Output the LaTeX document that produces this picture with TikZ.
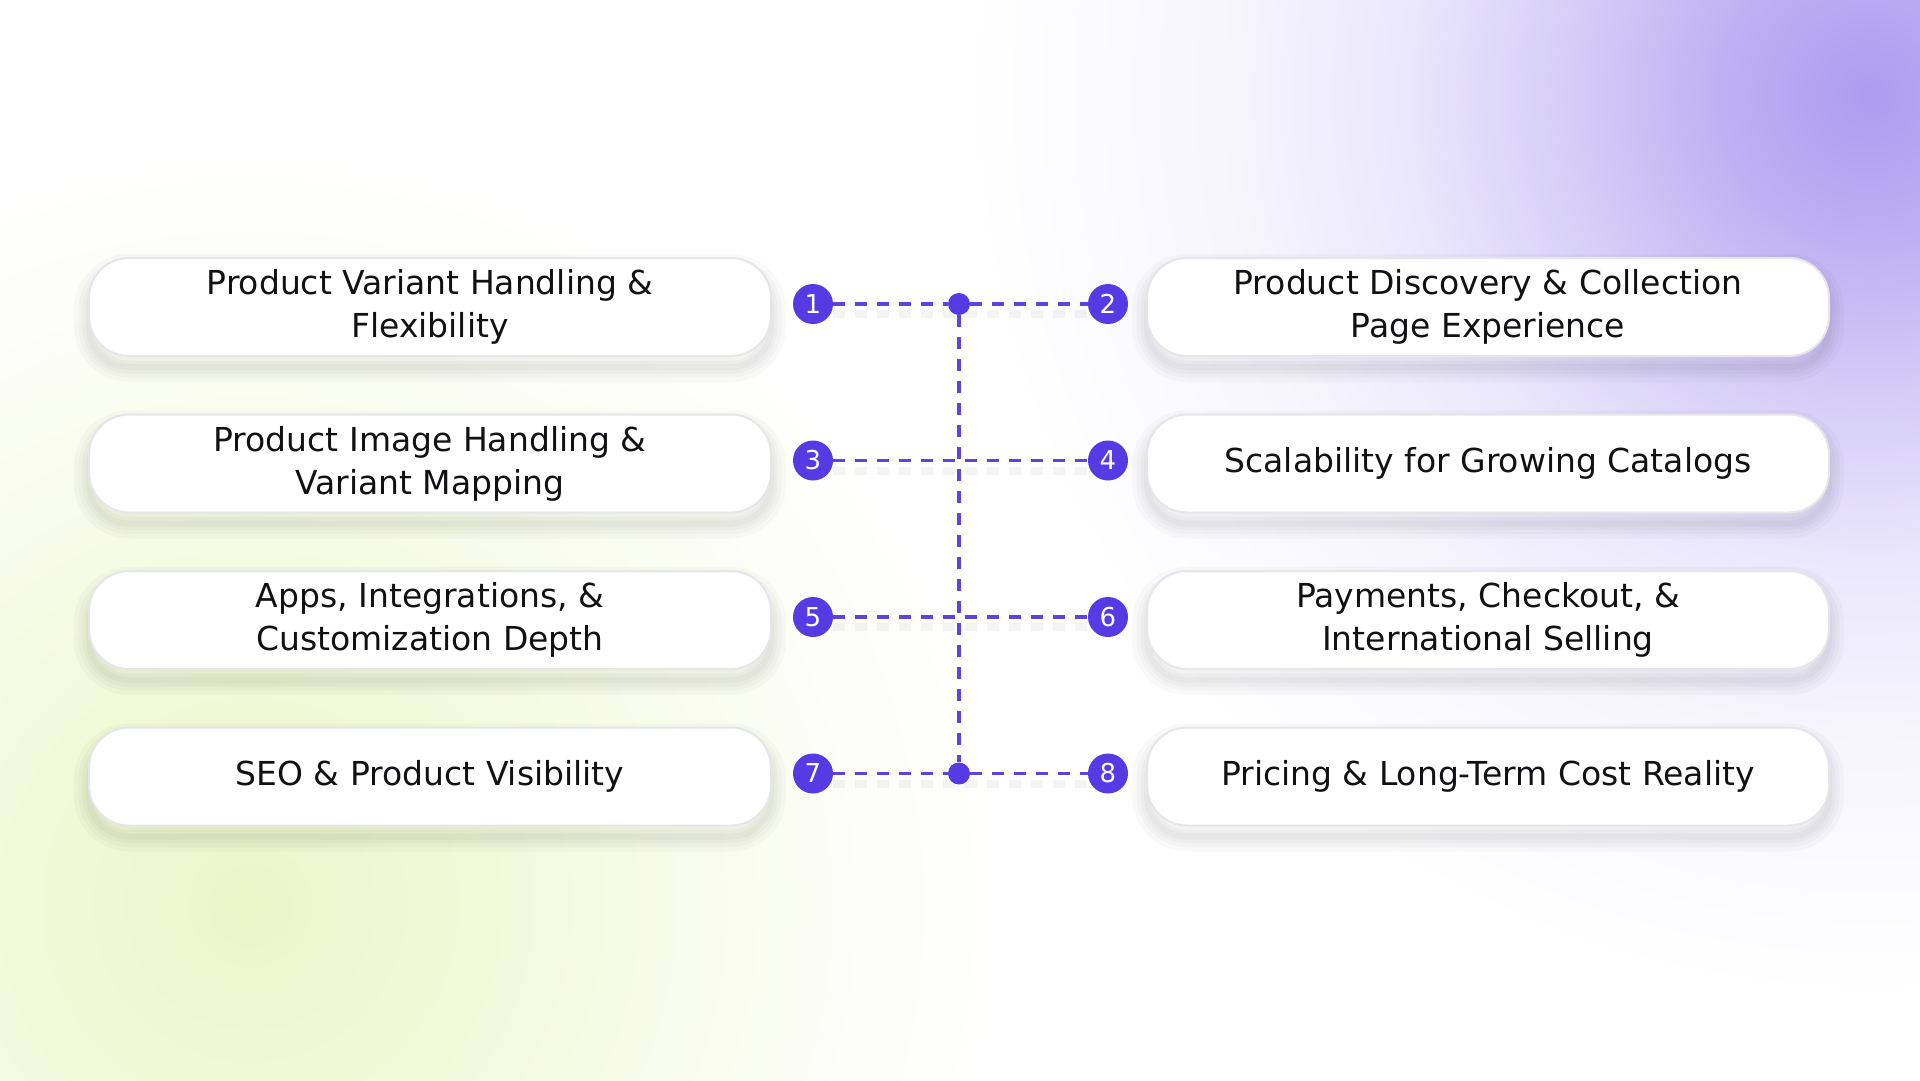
\documentclass[tikz,border=0pt]{standalone}
\usepackage{fontspec}
\setmainfont{DejaVu Sans}
\definecolor{accent}{RGB}{86,58,228}
\definecolor{lineacc}{RGB}{92,68,222}
\definecolor{cP}{RGB}{172,156,240}
\definecolor{cG}{RGB}{236,246,200}
\definecolor{boxline}{RGB}{230,230,233}
\definecolor{txt}{RGB}{17,17,20}
\pgfdeclareradialshading{glowP}{\pgfpoint{0bp}{0bp}}{color(0bp)=(cP); color(8bp)=(cP!80!white); color(17bp)=(cP!50!white); color(26bp)=(cP!24!white); color(36bp)=(cP!10!white); color(50bp)=(white)}
\pgfdeclareradialshading{glowG}{\pgfpoint{0bp}{0bp}}{color(0bp)=(cG); color(15bp)=(cG!70!white); color(30bp)=(cG!35!white); color(42bp)=(cG!12!white); color(50bp)=(white)}
\begin{document}
\begin{tikzpicture}[x=1pt,y=-1pt,
  shadowring/.style={preaction={draw=black, draw opacity=0.024, line width=#1, transform canvas={yshift=-11pt}}},
  card/.style={draw=boxline, line width=2pt, fill=white, rounded corners=40pt,
    minimum width=682pt, minimum height=98pt, inner sep=0pt, align=center,
    font=\fontsize{33pt}{43pt}\selectfont, text=txt,
    shadowring=30pt, shadowring=21pt, shadowring=13pt, shadowring=6pt},
  num/.style={circle, fill=accent, minimum size=40pt, inner sep=0pt, text=white,
    font=\fontsize{26pt}{26pt}\selectfont},
  hub/.style={circle, fill=accent, minimum size=22pt, inner sep=0pt},
  glow/.style={inner sep=0pt, outer sep=0pt},
  link/.style={lineacc, line width=3.5pt, dash pattern=on 12pt off 10pt},
  linkshadow/.style={black, opacity=0.045, line width=8pt, dash pattern=on 12pt off 10pt}
]
\useasboundingbox (0,0) rectangle (1920,1080);
\begin{scope}
\clip (0,0) rectangle (1920,1080);
\fill[white] (0,0) rectangle (1920,1080);
\node[glow] (bgP) at (1870,95) {\scalebox{18}{\pgfuseshading{glowP}}};
\node[glow] (bgG) at (250,905) {\scalebox{15}{\pgfuseshading{glowG}}};
\end{scope}

% cards
\node[card] (c1) at (430,307) {Product Variant Handling \&\\Flexibility};
\node[card] (c2) at (1488,307) {Product Discovery \& Collection\\Page Experience};
\node[card] (c3) at (430,463.5) {Product Image Handling \&\\Variant Mapping};
\node[card] (c4) at (1488,463.5) {Scalability for Growing Catalogs};
\node[card] (c5) at (430,620) {Apps, Integrations, \&\\Customization Depth};
\node[card] (c6) at (1488,620) {Payments, Checkout, \&\\International Selling};
\node[card] (c7) at (430,776.5) {SEO \& Product Visibility};
\node[card] (c8) at (1488,776.5) {Pricing \& Long-Term Cost Reality};

% numbers and hubs
\node[num] (n1) at (813,304) {1};
\node[num] (n2) at (1108,304) {2};
\node[num] (n3) at (813,460.5) {3};
\node[num] (n4) at (1108,460.5) {4};
\node[num] (n5) at (813,617) {5};
\node[num] (n6) at (1108,617) {6};
\node[num] (n7) at (813,773.5) {7};
\node[num] (n8) at (1108,773.5) {8};
\node[hub] (h1) at (959,304) {};
\node[hub] (h4) at (959,773.5) {};

% soft shadows of connectors
\foreach \a/\b in {n1/n2,n3/n4,n5/n6,n7/n8}
  \draw[linkshadow] ([yshift=-10pt]\a.east) -- ([yshift=-10pt]\b.west);

% connectors
\draw[link] (h1) -- (h4);
\draw[link] (n1) -- (h1) -- (n2);
\draw[link] (n3) -- (n4);
\draw[link] (n5) -- (n6);
\draw[link] (n7) -- (h4) -- (n8);
\end{tikzpicture}
\end{document}
